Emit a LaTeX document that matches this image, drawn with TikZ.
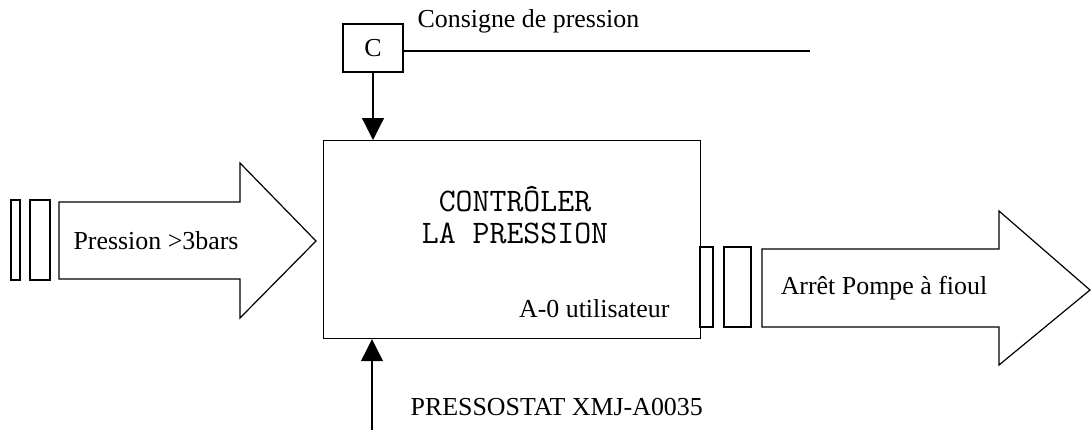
\documentclass[tikz,border=0pt]{standalone}
\usepackage{fontspec}
\setmainfont{Liberation Serif}
\usetikzlibrary{arrows.meta}
\begin{document}
\begin{tikzpicture}[x=1bp,y=-1bp,
  line width=1.2bp,
  lbl/.style={font=\fontsize{26}{28}\selectfont, inner sep=0pt},
  bar/.style={draw, line width=1.2bp},
  arr/.style={-{Triangle[length=22bp,width=22bp]}, line width=1.2bp}]
\useasboundingbox (0,0) rectangle (1091,430);
% main box
\node[draw, minimum width=377bp, minimum height=198bp, inner sep=0pt, anchor=north west] (box) at (323,140) {};
\node[font=\ttfamily\fontsize{33}{32}\selectfont, align=center, inner sep=0pt] (title) at (515,215) {CONTRÔLER\\LA PRESSION};
\node[lbl, anchor=base east] (a0) at (670,317) {A-0 utilisateur};
% control
\node[draw, minimum width=60bp, minimum height=48bp, inner sep=0pt, font=\fontsize{26}{28}\selectfont] (C) at (373,48) {C};
\coordinate (cend) at (810,51);
\draw (C.east |- cend) -- (cend);
\node[lbl, anchor=base west] (cons) at (417,27) {Consigne de pression};
\draw[arr] (C.south) -- (C.south |- box.north);
% mechanism
\coordinate (mech) at (372,430);
\draw[arr] (mech) -- (mech |- box.south);
\node[lbl, anchor=base west] (pres) at (410,415) {PRESSOSTAT XMJ-A0035};
% input arrow
\draw[bar] (11,200) rectangle (20,280);
\draw[bar] (30,200) rectangle (50,280);
\draw (59,202) -- (240,202) -- (240,163) -- (316,241) -- (240,318) -- (240,279) -- (59,279) -- cycle;
\node[lbl] (in) at (156,241) {Pression >3bars};
% output arrow
\draw[bar] (700,247) rectangle (713,327);
\draw[bar] (724,247) rectangle (751,327);
\draw (762,249) -- (999,249) -- (999,211) -- (1090,290) -- (999,365) -- (999,327) -- (762,327) -- cycle;
\node[lbl] (out) at (884,288) {Arrêt Pompe à fioul};
\end{tikzpicture}
\end{document}
